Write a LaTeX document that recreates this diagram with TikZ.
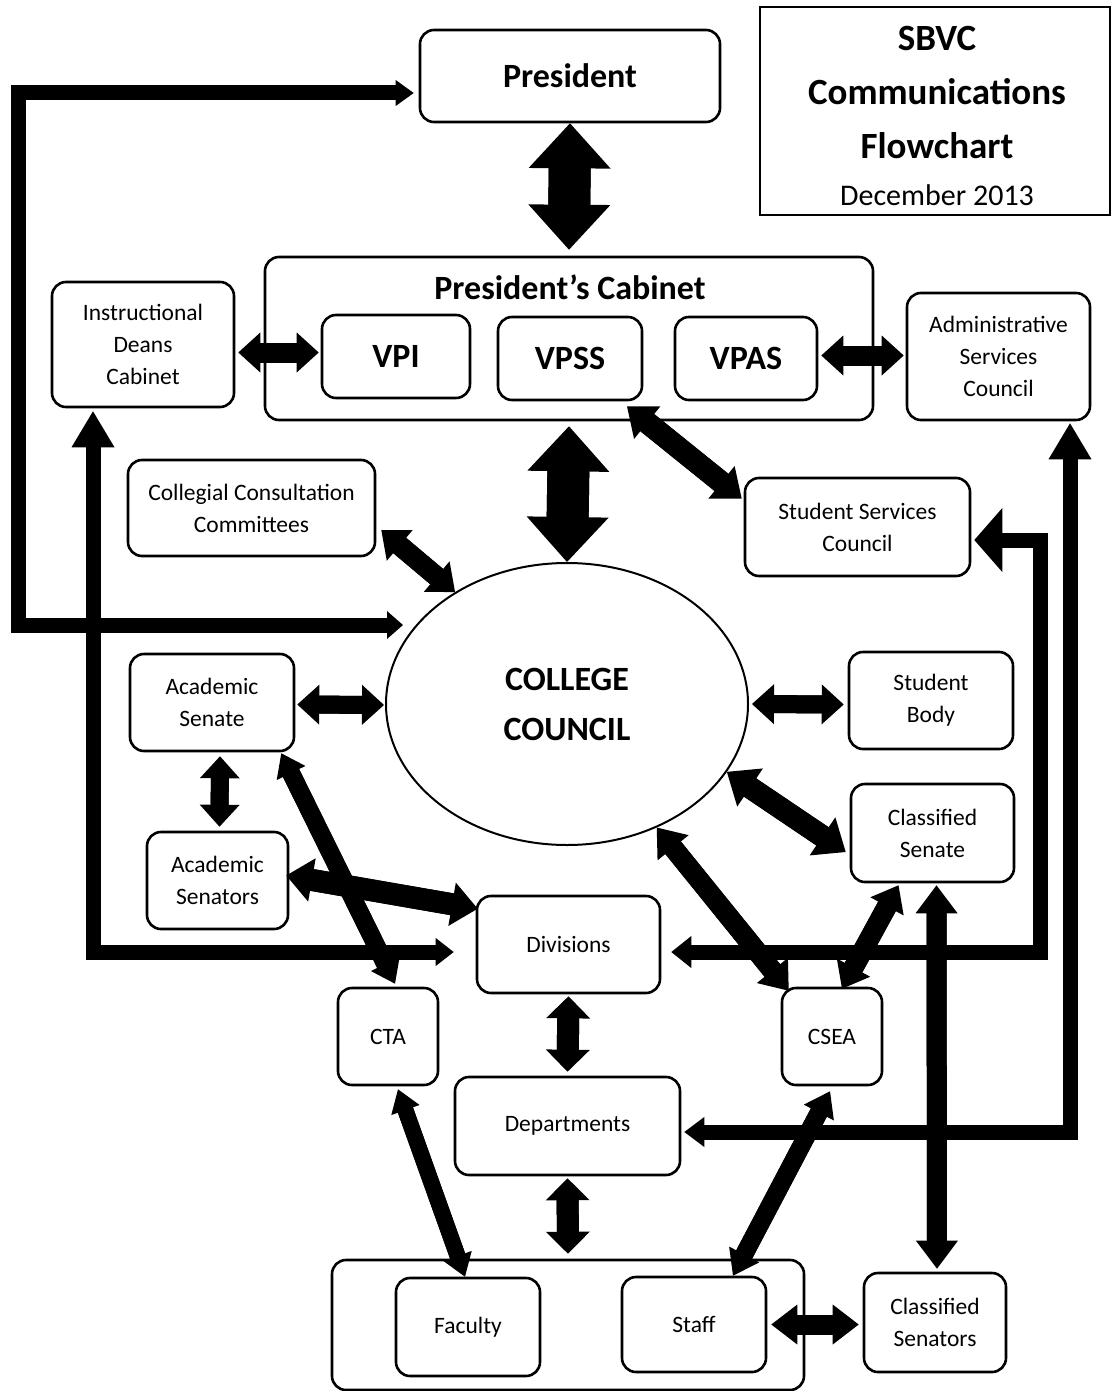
\documentclass[tikz,border=0pt]{standalone}
\usepackage{fontspec}
\setmainfont{Carlito}
\usetikzlibrary{arrows.meta,calc,shapes.geometric}
\begin{document}
\begin{tikzpicture}[x=1pt,y=-1pt,
  box/.style={draw,line width=2.6pt,rounded corners=14pt,fill=white,inner sep=0pt,align=center,font=\fontsize{23.5}{32}\selectfont},
  wh/.style 2 args={minimum width=#1pt,minimum height=#2pt},
  bigtxt/.style={font=\bfseries\fontsize{34}{34}\selectfont},
  dbl/.style n args={3}{line width=#1pt, arrows={Triangle[width=#2pt,length=#3pt,line width=0pt]-Triangle[width=#2pt,length=#3pt,line width=0pt]},
    postaction={draw,line width=#1pt,arrows=-,shorten <=#3pt-4pt,shorten >=#3pt-4pt}},
  el/.style n args={5}{line width=#1pt, line join=miter, arrows={Triangle[width=#2pt,length=#3pt,line width=0pt]-Triangle[width=#4pt,length=#5pt,line width=0pt]},
    postaction={draw,line width=#1pt,line join=miter,arrows=-,shorten <=#3pt-4pt,shorten >=#5pt-4pt}}
]
\useasboundingbox (0,0) rectangle (1111,1391);

% title box
\node[draw,line width=1.5pt,wh={350}{208},inner sep=0pt] (tbox) at (935,111) {};
\node[font=\bfseries\fontsize{37}{37}\selectfont] (t1) at (937,38) {SBVC};
\node[font=\bfseries\fontsize{37}{37}\selectfont] (t2) at (937,92) {Communications};
\node[font=\bfseries\fontsize{37}{37}\selectfont] (t3) at (937,146) {Flowchart};
\node[font=\fontsize{30}{30}\selectfont] (t4) at (937,195) {December 2013};

% nodes
\node[box,wh={300}{92},bigtxt] (pres) at (570,76) {President};
\node[box,wh={608}{163}] (cab) at (569,338.5) {};
\node[font=\bfseries\fontsize{34}{34}\selectfont] (cabt) at (570,287) {President’s Cabinet};
\node[box,wh={148}{83},bigtxt] (vpi) at (396,356.5) {VPI};
\node[box,wh={144}{83},bigtxt] (vpss) at (570,358.5) {VPSS};
\node[box,wh={142}{83},bigtxt] (vpas) at (746,358.5) {VPAS};
\node[box,wh={182}{125}] (idc) at (143,344.5) {Instructional\\Deans\\Cabinet};
\node[box,wh={183}{127}] (asc) at (998.5,356.5) {Administrative\\Services\\Council};
\node[box,wh={247}{96}] (ccc) at (251.5,508) {Collegial Consultation\\Committees};
\node[box,wh={225}{98}] (ssc) at (857.5,527) {Student Services\\Council};
\node[draw,ellipse,line width=2pt,fill=white,wh={362}{282},inner sep=0pt,align=center,font=\bfseries\fontsize{34}{50}\selectfont] (cc) at (567,704) {COLLEGE\\COUNCIL};
\node[box,wh={164}{97}] (as) at (212,702.5) {Academic\\Senate};
\node[box,wh={164}{97}] (sb) at (931,700.5) {Student\\Body};
\node[box,wh={141}{97}] (asen) at (217.5,880.5) {Academic\\Senators};
\node[box,wh={163}{98}] (cs) at (932.5,833) {Classified\\Senate};
\node[box,wh={183}{97}] (div) at (568.5,944.5) {Divisions};
\node[box,wh={100}{97}] (cta) at (388,1036.5) {CTA};
\node[box,wh={100}{97}] (csea) at (832,1036.5) {CSEA};
\node[box,wh={225}{98}] (dep) at (567.5,1126) {Departments};
\node[box,wh={472}{130}] (fs) at (568,1325) {};
\node[box,wh={144}{98}] (fac) at (468,1327) {Faculty};
\node[box,wh={144}{95}] (staff) at (694,1324.5) {Staff};
\node[box,wh={142}{99}] (csen) at (935,1322.5) {Classified\\Senators};

% big arrows
\draw[dbl={42}{82}{45}] (pres.south) -- ($(cab.north)+(0,-6)$);
\draw[dbl={42}{82}{45}] ($(cab.south)+(0,5)$) -- (cc.north);

% other two-way arrows
\draw[dbl={20}{40}{22}] ($(idc.east)+(3,8)$) -- ($(vpi.west)+(-2,-4)$);
\draw[dbl={20}{40}{22}] ($(vpas.east)+(3,-3)$) -- ($(asc.west)+(-2,-1)$);
\draw[dbl={20}{40}{24}] ($(ccc.east)+(5,22)$) -- (cc.135);
\draw[dbl={22}{42}{26}] ($(vpss.south)+(57,5)$) -- ($(ssc.north west)+(-2,22)$);
\draw[dbl={18}{40}{22}] ($(as.east)+(2,2)$) -- ($(cc.west)+(-1,1)$);
\draw[dbl={18}{40}{22}] ($(cc.east)+(3,0)$) -- ($(sb.west)+(-4,4)$);
\draw[dbl={22}{46}{28}] (cc.-23) -- ($(cs.west)+(-4,19)$);
\draw[dbl={18}{40}{22}] ($(as.south)+(8,4)$) -- ($(asen.north)+(2,-4)$);
\draw[dbl={22}{44}{26}] ($(asen.east)+(-3,-5)$) -- ($(div.north west)+(2,14)$);
\draw[dbl={18}{32}{22}] ($(as.south east)+(-14,1)$) -- ($(cta.north)+(7,-3)$);
\draw[dbl={20}{40}{26}] (cc.-54) -- ($(csea.north west)+(8,4)$);
\draw[dbl={20}{38}{24}] ($(cs.south)+(-34,2)$) -- ($(csea.north)+(10,2)$);
\draw[dbl={22}{44}{22}] ($(div.south)+(0,2)$) -- ($(dep.north)+(0,-4)$);
\draw[dbl={22}{44}{22}] ($(dep.south)+(0,2)$) -- ($(fs.north)+(0,-5)$);
\draw[dbl={16}{30}{22}] ($(cta.south)+(10,3)$) -- ($(fac.north)+(-3,0)$);
\draw[dbl={18}{34}{24}] ($(csea.south)+(-2,5)$) -- ($(staff.north)+(39,0)$);
\draw[dbl={20}{40}{26}] ($(staff.east)+(4,0)$) -- ($(csen.west)+(-4,2)$);
\draw[dbl={20}{42}{28}] ($(cs.south)+(4,2)$) -- ($(csen.north)+(2,-3)$);

% elbow connectors
\coordinate (b1) at (18,625);
\draw[el={15}{26}{18}{28}{16}] ($(pres.west)+(-5,17)$) -| (b1) -- ($(cc.west)+(18,-79)$);
\draw[el={15}{43}{36}{28}{18}] ($(idc.south)+(-50,3)$) |- ($(div.west)+(-22,7.5)$);
\draw[el={15}{43}{36}{30}{20}] ($(asc.south)+(71.5,2)$) |- ($(dep.east)+(3,6)$);
\coordinate (b4) at (1040,952);
\draw[el={15}{64}{28}{32}{20}] ($(ssc.east)+(3,13)$) -| (b4) -- ($(div.east)+(10,7.5)$);
\end{tikzpicture}
\end{document}
